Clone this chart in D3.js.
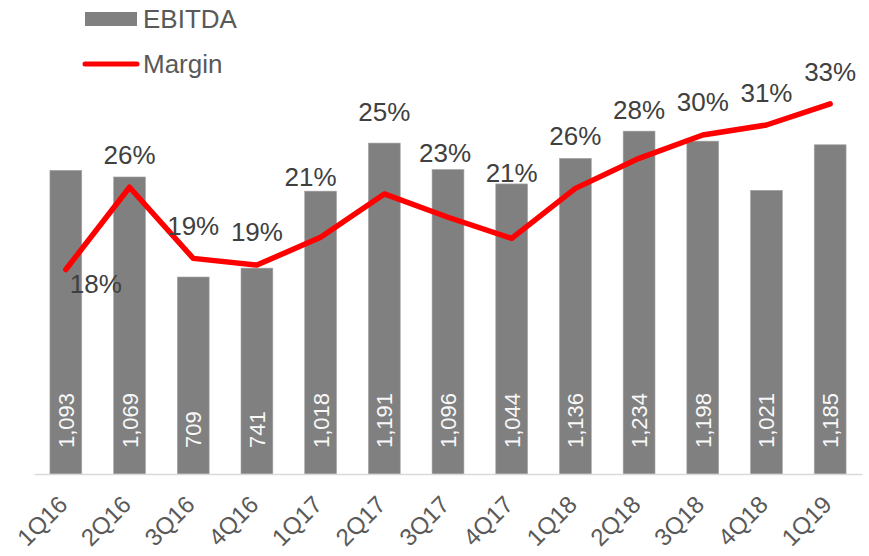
<!DOCTYPE html>
<html>
<head>
<meta charset="utf-8">
<script src="https://cdn.jsdelivr.net/npm/d3@7"></script>
<style>
  html, body { margin: 0; padding: 0; background: #ffffff; }
  svg { display: block; font-family: "Liberation Sans", Arial, sans-serif; }
</style>
</head>
<body>
<svg id="chart" width="869" height="556"></svg>
<script>
// ---- data ----
const categories = ["1Q16","2Q16","3Q16","4Q16","1Q17","2Q17","3Q17","4Q17","1Q18","2Q18","3Q18","4Q18","1Q19"];
const ebitda = [1093, 1069, 709, 741, 1018, 1191, 1096, 1044, 1136, 1234, 1198, 1021, 1185];
const margin = [0.184, 0.258, 0.194, 0.188, 0.213, 0.252, 0.231, 0.212, 0.257, 0.284, 0.305, 0.314, 0.333];
const marginLabels = ["18%","26%","19%","19%","21%","25%","23%","21%","26%","28%","30%","31%","33%"];
const seriesNames = ["EBITDA", "Margin"];
// label offsets (layout, px) for the margin data labels, relative to the point
const marginLabelDx = [30, 0, 0, 0, -10, 0, -3, 0, 0, 0, 0, 0, 0];
const marginLabelDy = [15, -32, -32, -33, -60, -82, -64, -65, -52, -48, -33, -32, -32];

// ---- layout ----
const svg = d3.select("#chart");
const plot = { left: 34, right: 862, top: 85, bottom: 474 };

const x = d3.scaleBand().domain(categories).range([plot.left, plot.right]).paddingInner(0.5).paddingOuter(0.25);
const y = d3.scaleLinear().domain([0, 1400]).range([plot.bottom, plot.top]);
const y2 = d3.scaleLinear().domain([0, 0.35]).range([plot.bottom, plot.top]);
const cx = d => x(d) + x.bandwidth() / 2;

// bars
svg.append("g").selectAll("rect").data(categories).join("rect")
  .attr("x", d => x(d))
  .attr("y", (d, i) => y(ebitda[i]))
  .attr("width", x.bandwidth())
  .attr("height", (d, i) => y(0) - y(ebitda[i]))
  .attr("fill", "#808080")
  .attr("stroke", "#a6a6a6")
  .attr("stroke-width", 0.6);

// bar value labels (rotated, inside base)
svg.append("g").selectAll("text").data(categories).join("text")
  .attr("transform", (d, i) => `translate(${cx(d) + 8},${y(0) - 26}) rotate(-90)`)
  .attr("text-anchor", "start")
  .attr("font-size", 22)
  .attr("fill", "#f8f8f8")
  .text((d, i) => d3.format(",")(ebitda[i]));

// x axis line
const xAxis = d3.axisBottom(x).tickSize(0).tickFormat("");
const gx = svg.append("g").attr("transform", `translate(0,${plot.bottom})`).call(xAxis);
gx.select(".domain").attr("stroke", "#d9d9d9").attr("stroke-width", 1.5);

// category labels
svg.append("g").selectAll("text").data(categories).join("text")
  .attr("transform", d => `translate(${cx(d) + 3},${plot.bottom + 32}) rotate(-45)`)
  .attr("text-anchor", "end")
  .attr("font-size", 24)
  .attr("fill", "#595959")
  .text(d => d);

// margin line
const line = d3.line()
  .x((d, i) => cx(categories[i]))
  .y(d => y2(d));
svg.append("path")
  .datum(margin)
  .attr("d", line)
  .attr("fill", "none")
  .attr("stroke", "#ff0000")
  .attr("stroke-width", 5.5)
  .attr("stroke-linejoin", "round")
  .attr("stroke-linecap", "round");

// margin labels
svg.append("g").selectAll("text").data(categories).join("text")
  .attr("x", (d, i) => cx(d) + marginLabelDx[i])
  .attr("y", (d, i) => y2(margin[i]) + marginLabelDy[i] + 9)
  .attr("text-anchor", "middle")
  .attr("font-size", 26)
  .attr("fill", "#404040")
  .text((d, i) => marginLabels[i]);

// legend
const lg = svg.append("g");
lg.append("rect").attr("x", 85).attr("y", 12).attr("width", 52).attr("height", 14).attr("fill", "#808080");
lg.append("text").attr("x", 143).attr("y", 28).attr("font-size", 26).attr("fill", "#595959").text(seriesNames[0]);
lg.append("line").attr("x1", 85).attr("x2", 137).attr("y1", 64).attr("y2", 64)
  .attr("stroke", "#ff0000").attr("stroke-width", 5).attr("stroke-linecap", "round");
lg.append("text").attr("x", 143).attr("y", 73).attr("font-size", 26).attr("fill", "#595959").text(seriesNames[1]);
</script>
</body>
</html>
